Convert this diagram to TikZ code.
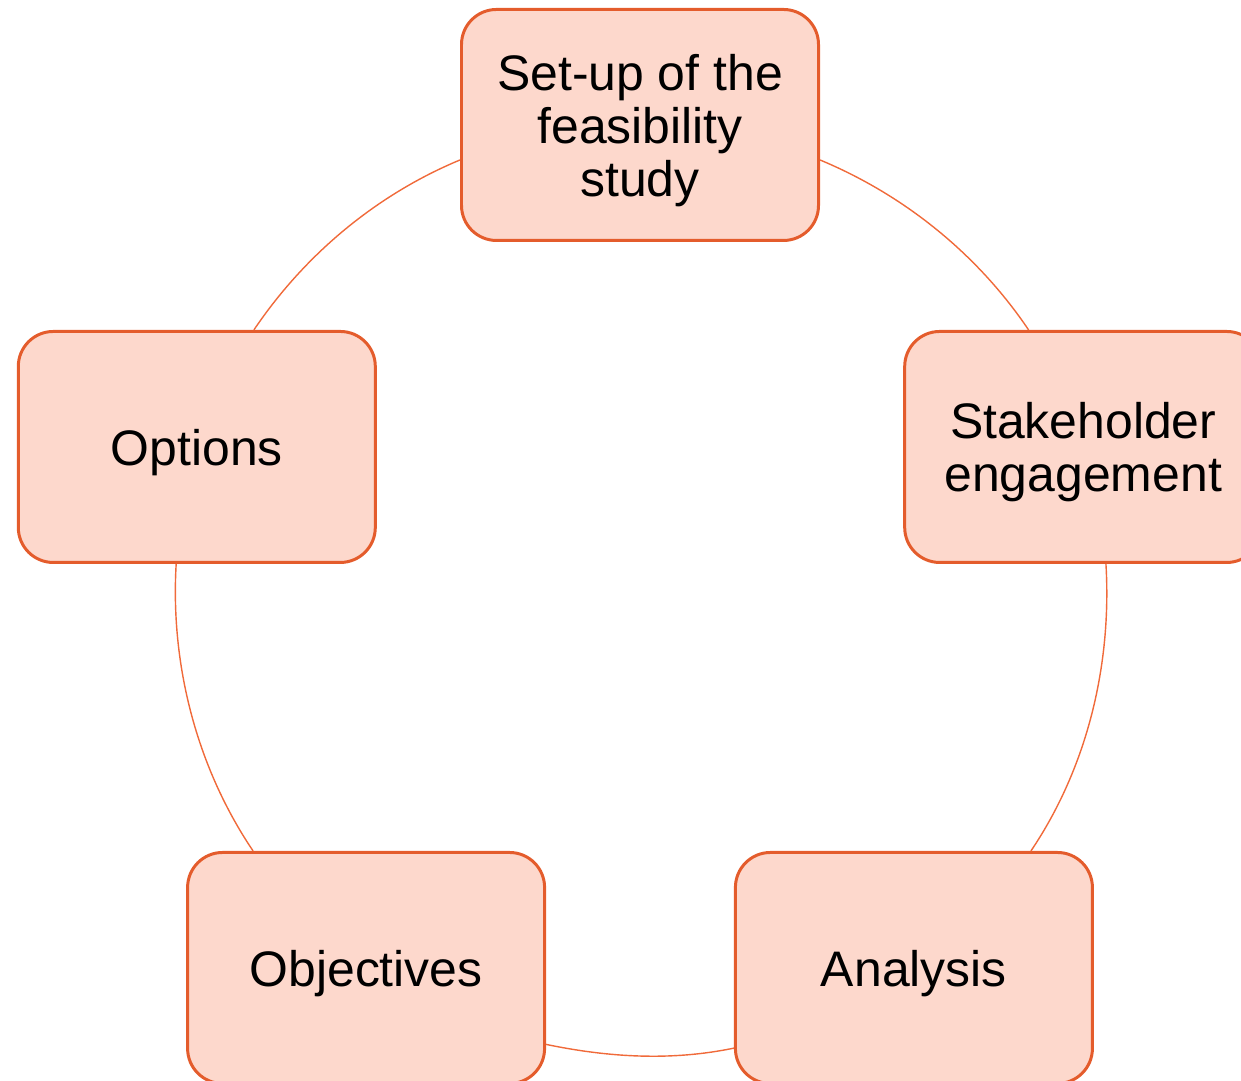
\documentclass[tikz,border=0pt]{standalone}
\usepackage{fontspec}
\setmainfont{Liberation Sans}

\definecolor{boxline}{HTML}{E45C2C}
\definecolor{boxfill}{HTML}{FDD8CC}
\definecolor{ringline}{HTML}{F06A3A}

% a little extra room above the first line of each step
\newcommand\steplift{\rule{0pt}{0.47cm}}

\tikzset{
  stepbox/.style={draw=boxline, fill=boxfill, line width=0.85pt,
    rounded corners=0.35cm, minimum width=3.57cm, minimum height=2.31cm,
    align=center, inner sep=0pt, font=\fontsize{14.2}{15.1}\selectfont},
  link/.style={draw=ringline, line width=0.4pt, looseness=0.87}
}

\begin{document}
\begin{tikzpicture}
  \useasboundingbox (0,0) rectangle (12.41,10.81);
  \coordinate (hub) at (6.40,4.90);
  % the five steps round the ring
  \path (hub) ++(90:4.66) node[stepbox] (setup) {\steplift Set-up of the\\feasibility\\study};
  \path (hub) ++(18:4.66) node[stepbox] (stake) {\steplift Stakeholder\\engagement};
  \path (hub) ++(-54:4.66) node[stepbox] (analysis) {\steplift Analysis};
  \path (hub) ++(-126:4.66) node[stepbox] (objectives) {\steplift Objectives};
  \path (hub) ++(162:4.66) node[stepbox] (options) {\steplift Options};
  % ring pieces between the steps
  \draw[link] (setup.-11.28) to[out=-22.59, in=123.99] (stake.115.99);
  \draw[link] (stake.-79.31) to[out=-86.62, in=56.01] (analysis.45.99);
  \draw[link] (analysis.-156.13) to[out=-168.25, in=-11.75] (objectives.-23.87);
  \draw[link] (objectives.134.01) to[out=123.99, in=-93.38] (options.-100.69);
  \draw[link] (options.64.01) to[out=56.01, in=202.59] (setup.191.28);
\end{tikzpicture}
\end{document}
